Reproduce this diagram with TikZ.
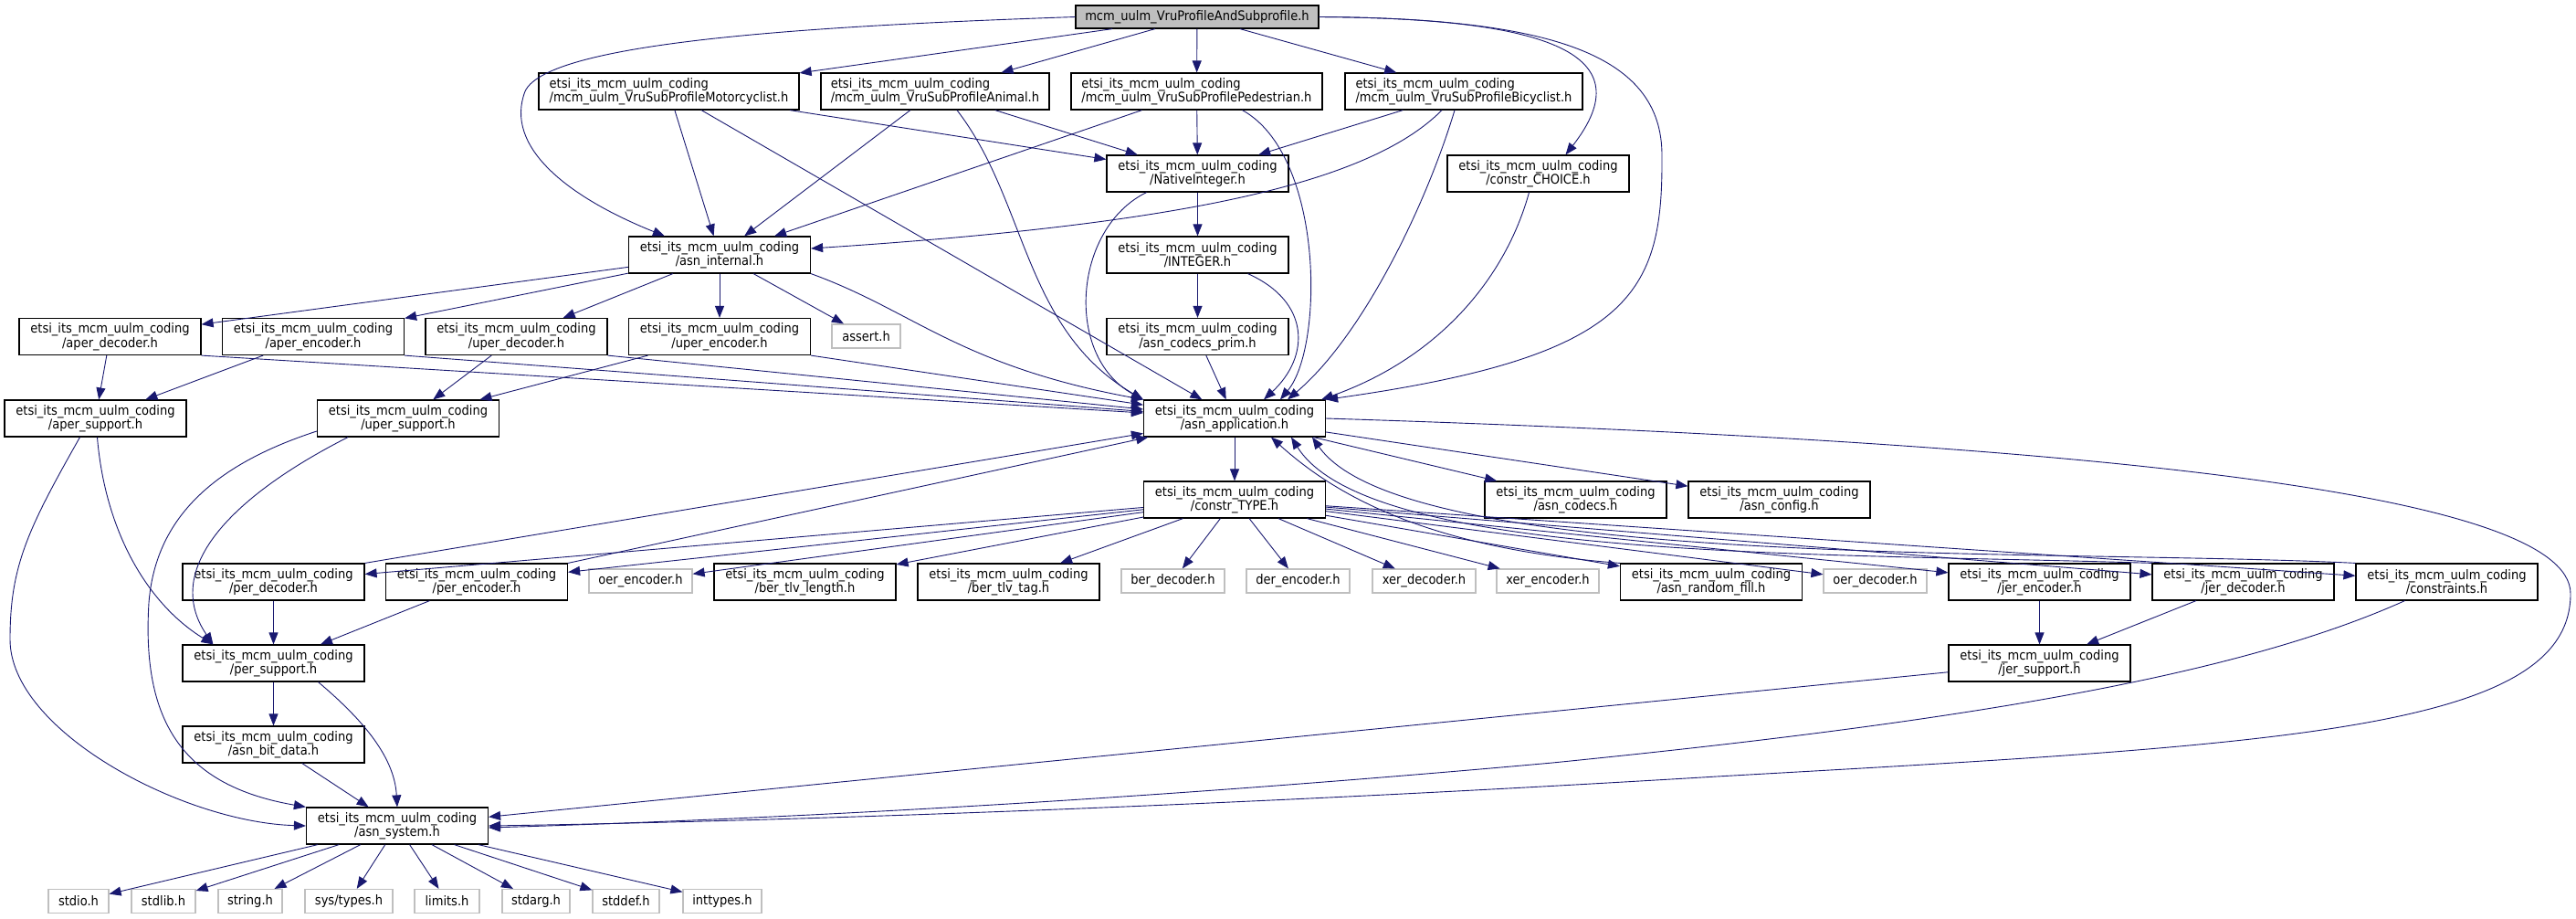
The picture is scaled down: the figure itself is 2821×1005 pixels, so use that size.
\documentclass[tikz,border=0pt]{standalone}
\usepackage{fontspec}
\setmainfont{DejaVu Sans Condensed}
\usepackage{xcolor}
\usetikzlibrary{arrows.meta,calc}
\definecolor{edgeblue}{HTML}{191970}
\definecolor{boxgray}{HTML}{BFBFBF}
\newcommand{\mcmdir}{etsi\_its\_mcm\_uulm\_coding}

\begin{document}
\begin{tikzpicture}[x=1pt,y=-1pt,
    hdr/.style={draw=black, line width=1.2pt, fill=white, minimum width=199pt, minimum height=40pt, inner sep=0pt, align=center, font={\fontsize{14.5}{14.3}\selectfont}},
    sub/.style={hdr, align=left},
    ext/.style={draw=boxgray, line width=1.2pt, fill=white, minimum width=113pt, minimum height=26pt, inner sep=0pt, font={\fontsize{14.5}{14.3}\selectfont}},
    inc/.style={draw=edgeblue, line width=0.9pt, -{Triangle[length=13pt,width=10pt]}}]
    \useasboundingbox (0,0) rectangle (2821,1005);

    % top rows
    \node[hdr, fill=boxgray, minimum width=266pt, minimum height=25pt] (root) at (1311,18.5) {mcm\_uulm\_VruProfileAndSubprofile.h};
    \node[sub, minimum width=285pt] (moto) at (732.5,100) {\mcmdir\\/mcm\_uulm\_VruSubProfileMotorcyclist.h};
    \node[sub, minimum width=250pt] (animal) at (1024,100) {\mcmdir\\/mcm\_uulm\_VruSubProfileAnimal.h};
    \node[sub, minimum width=275pt] (ped) at (1310.5,100) {\mcmdir\\/mcm\_uulm\_VruSubProfilePedestrian.h};
    \node[sub, minimum width=260pt] (bicy) at (1603,100) {\mcmdir\\/mcm\_uulm\_VruSubProfileBicyclist.h};
    \node[hdr] (nativeint) at (1311.5,190) {\mcmdir\\/NativeInteger.h};
    \node[hdr] (choice) at (1684.5,190) {\mcmdir\\/constr\_CHOICE.h};
    \node[hdr] (internal) at (788,279) {\mcmdir\\/asn\_internal.h};
    \node[hdr] (integer) at (1311.5,279) {\mcmdir\\/INTEGER.h};

    % codec rows
    \node[hdr] (aperdec) at (120.5,368.5) {\mcmdir\\/aper\_decoder.h};
    \node[hdr] (aperenc) at (343,368.5) {\mcmdir\\/aper\_encoder.h};
    \node[hdr] (uperdec) at (565.5,368.5) {\mcmdir\\/uper\_decoder.h};
    \node[hdr] (uperenc) at (788,368.5) {\mcmdir\\/uper\_encoder.h};
    \node[ext, minimum width=75pt] (assert) at (948.5,368) {assert.h};
    \node[hdr] (codecsprim) at (1311.5,368.5) {\mcmdir\\/asn\_codecs\_prim.h};
    \node[hdr] (apersup) at (104.5,458) {\mcmdir\\/aper\_support.h};
    \node[hdr] (upersup) at (447,458) {\mcmdir\\/uper\_support.h};
    \node[hdr] (application) at (1352,458) {\mcmdir\\/asn\_application.h};
    \node[hdr] (constrtype) at (1352,547) {\mcmdir\\/constr\_TYPE.h};
    \node[hdr] (codecs) at (1725.5,547) {\mcmdir\\/asn\_codecs.h};
    \node[hdr] (config) at (1948.5,547) {\mcmdir\\/asn\_config.h};

    % encoder / decoder row
    \node[hdr] (perdec) at (299.5,637) {\mcmdir\\/per\_decoder.h};
    \node[hdr] (perenc) at (522,637) {\mcmdir\\/per\_encoder.h};
    \node[ext] (oerenc) at (701.5,636) {oer\_encoder.h};
    \node[hdr] (bertlvlen) at (881.5,637) {\mcmdir\\/ber\_tlv\_length.h};
    \node[hdr] (bertlvtag) at (1104.5,637) {\mcmdir\\/ber\_tlv\_tag.h};
    \node[ext] (berdec) at (1284.5,636) {ber\_decoder.h};
    \node[ext] (derenc) at (1421.5,636) {der\_encoder.h};
    \node[ext] (xerdec) at (1559.5,636) {xer\_decoder.h};
    \node[ext, minimum width=112pt] (xerenc) at (1695,636) {xer\_encoder.h};
    \node[hdr] (randfill) at (1874,637) {\mcmdir\\/asn\_random\_fill.h};
    \node[ext] (oerdec) at (2053.5,636) {oer\_decoder.h};
    \node[hdr] (jerenc) at (2233.5,637) {\mcmdir\\/jer\_encoder.h};
    \node[hdr] (jerdec) at (2456.5,637) {\mcmdir\\/jer\_decoder.h};
    \node[hdr] (constraints) at (2679.5,637) {\mcmdir\\/constraints.h};

    % support rows
    \node[hdr] (persup) at (299.5,726) {\mcmdir\\/per\_support.h};
    \node[hdr] (jersup) at (2233.5,726) {\mcmdir\\/jer\_support.h};
    \node[hdr] (bitdata) at (299.5,815) {\mcmdir\\/asn\_bit\_data.h};
    \node[hdr] (system) at (435,904) {\mcmdir\\/asn\_system.h};

    % system headers
    \node[ext, minimum width=66pt] (stdio) at (86,986.5) {stdio.h};
    \node[ext, minimum width=70pt] (stdlib) at (179,986.5) {stdlib.h};
    \node[ext, minimum width=70pt] (string) at (274,986.5) {string.h};
    \node[ext, minimum width=96pt] (systypes) at (382,986.5) {sys/types.h};
    \node[ext, minimum width=71pt] (limits) at (489.5,986.5) {limits.h};
    \node[ext, minimum width=74pt] (stdarg) at (587,986.5) {stdarg.h};
    \node[ext, minimum width=73pt] (stddef) at (685.5,986.5) {stddef.h};
    \node[ext, minimum width=86pt] (inttypes) at (791,986.5) {inttypes.h};

    % includes of the root
    \foreach \t in {moto,animal,ped,bicy}
        \draw[inc] (root) -- (\t);
    \draw[inc] (root.west) .. controls (900,28) and (600,45) .. (575,100) .. controls (552,160) and (620,215) .. ([xshift=40pt]internal.north west);
    \draw[inc] (root.east) .. controls (1700,20) and (1800,60) .. ([xshift=30pt]choice.north);
    \draw[inc] (root.east) .. controls (1700,20) and (1820,60) .. (1820,170) .. controls (1821,320) and (1790,390) .. (application.north east);

    % sub profiles
    \foreach \s in {moto,animal,ped,bicy}
        \draw[inc] (\s) -- (nativeint);
    \foreach \s in {moto,animal,ped}
        \draw[inc] (\s) -- (internal);
    \draw[inc] (moto) -- (application);
    \draw[inc] ([xshift=24pt]animal.south) .. controls (1125,220) and (1120,360) .. (application.north west);
    \draw[inc] ([xshift=50pt]ped.south) .. controls (1450,170) and (1450,380) .. ([xshift=50pt]application.north);
    \draw[inc] ([xshift=-24pt]bicy.south) .. controls (1500,200) and (1300,245) .. ([yshift=7pt]internal.east);
    \draw[inc] ([xshift=-10pt]bicy.south) .. controls (1560,230) and (1490,370) .. ([xshift=58pt]application.north);
    \draw[inc] ([xshift=-10pt]choice.south) .. controls (1650,300) and (1580,390) .. ([xshift=-5pt]application.north east);

    % integer chain
    \draw[inc] (nativeint) -- (integer);
    \draw[inc] ([xshift=-56pt]nativeint.south) .. controls (1175,250) and (1165,390) .. (application.north west);
    \draw[inc] (integer) -- (codecsprim);
    \draw[inc] ([xshift=55pt]integer.south) .. controls (1435,330) and (1435,390) .. ([xshift=32pt]application.north);
    \draw[inc] (codecsprim) -- (application);

    % asn_internal and the aper / uper codecs
    \foreach \t in {aperdec,aperenc,uperdec,uperenc,assert}
        \draw[inc] (internal) -- (\t);
    \draw[inc] (internal.south east) .. controls (1000,340) and (1050,400) .. (application.north west);
    \foreach \s in {aperdec,aperenc,uperdec,uperenc}
        \draw[inc] (\s.south east) -- (application);
    \draw[inc] (aperdec) -- (apersup);
    \draw[inc] (aperenc) -- (apersup);
    \draw[inc] (uperdec) -- (upersup);
    \draw[inc] (uperenc) -- (upersup);
    \draw[inc] ([xshift=-17pt]apersup.south) .. controls (30,580) and (11,620) .. (11,700) .. controls (11,800) and (200,900) .. (system.west);
    \draw[inc] ([xshift=2pt]apersup.south) .. controls (115,580) and (160,660) .. ([xshift=34pt]persup.north west);
    \draw[inc] ([yshift=-14pt]upersup.west) .. controls (230,510) and (170,570) .. (163,660) .. controls (155,790) and (200,860) .. (system.north west);
    \draw[inc] ([xshift=-66pt]upersup.south) .. controls (260,540) and (175,620) .. ([xshift=34pt]persup.north west);

    % asn_application
    \foreach \t in {constrtype,codecs,config}
        \draw[inc] (application) -- (\t);
    \draw[inc] (application.east) .. controls (2300,485) and (2815,540) .. (2815,650) .. controls (2815,800) and (2500,815) .. (1880,850) .. controls (1300,885) and (800,900) .. (system.east);

    % constr_TYPE
    \foreach \t in {perdec,perenc,oerenc,bertlvlen,bertlvtag,berdec,derenc,xerdec,xerenc,randfill,oerdec,jerenc,jerdec,constraints}
        \draw[inc] (constrtype) -- (\t);
    \draw[inc] (perdec.north east) -- (application);
    \draw[inc] (perenc.north east) -- (application);
    \draw[inc] (randfill.north west) .. controls (1560,600) and (1460,540) .. ([xshift=40pt]application.south);
    \draw[inc] (jerdec.north west) .. controls (2000,605) and (1500,615) .. ([xshift=62pt]application.south);
    \draw[inc] (constraints.north west) .. controls (2250,600) and (1540,625) .. ([xshift=85pt]application.south);

    % support headers
    \draw[inc] (perdec) -- (persup);
    \draw[inc] (perenc) -- (persup);
    \draw[inc] (jerenc) -- (jersup);
    \draw[inc] (jerdec) -- (jersup);
    \draw[inc] (persup) -- (bitdata);
    \draw[inc] ([xshift=49pt]persup.south) .. controls (400,790) and (432,830) .. (system.north);
    \draw[inc] (bitdata) -- (system);
    \draw[inc] (jersup) -- (system);
    \draw[inc] ([xshift=-46pt]constraints.south) .. controls (2450,740) and (2150,790) .. (1700,835) .. controls (1200,880) and (800,898) .. ([yshift=-2pt]system.east);

    % asn_system
    \foreach \t in {stdio,stdlib,string,systypes,limits,stdarg,stddef,inttypes}
        \draw[inc] (system) -- (\t);
\end{tikzpicture}
\end{document}
